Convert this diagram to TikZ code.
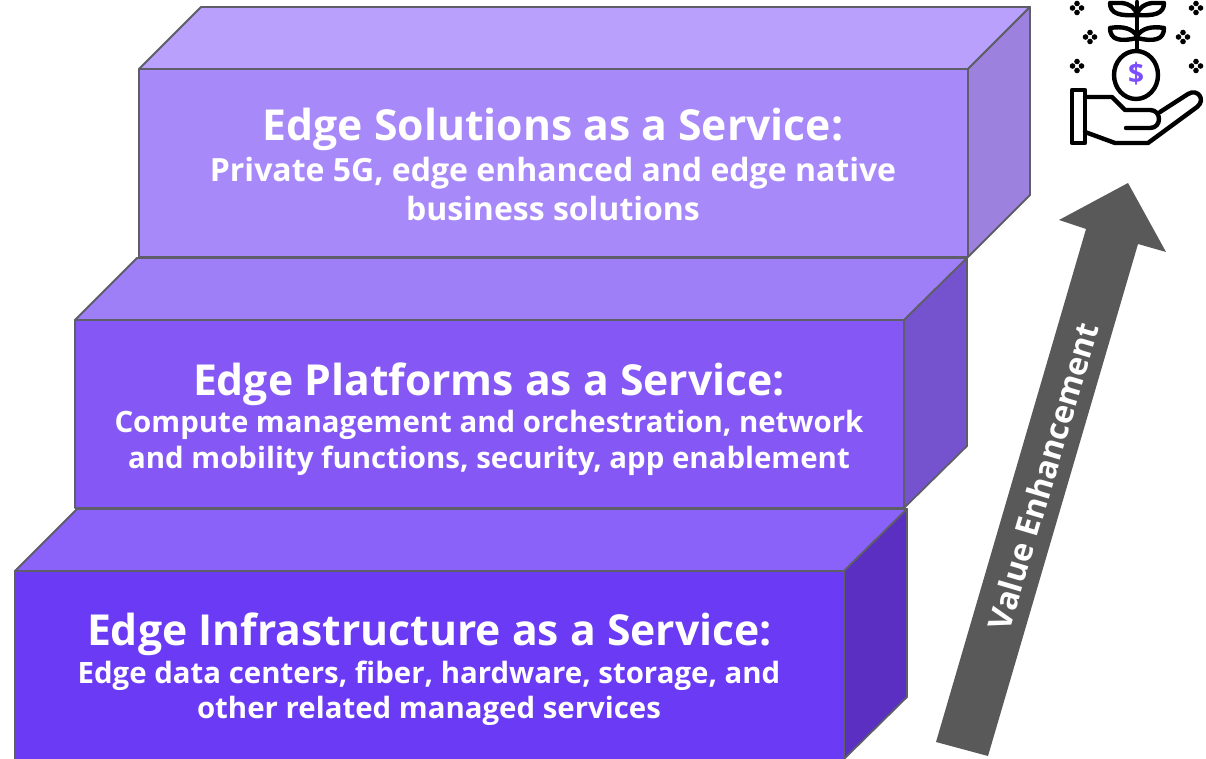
\documentclass[tikz,border=0pt]{standalone}
\usepackage{fontspec}
\setmainfont{Open Sans}[BoldFont={* Bold}]
\definecolor{edgeline}{HTML}{5E5E68}
\definecolor{arrowgrey}{HTML}{595959}
\definecolor{dollar}{HTML}{7C4DFF}
\definecolor{topA}{HTML}{B8A0FC}
\definecolor{topB}{HTML}{9C82DE}
\definecolor{topC}{HTML}{A889F9}
\definecolor{midA}{HTML}{9E7FF8}
\definecolor{midB}{HTML}{7552CE}
\definecolor{midC}{HTML}{8558F5}
\definecolor{botA}{HTML}{8A62FA}
\definecolor{botB}{HTML}{5A2FC2}
\definecolor{botC}{HTML}{6A3AF5}
\tikzset{
  face/.style={draw=edgeline,line width=1.8pt,line join=round},
  titletext/.style={anchor=base,text=white,font=\bfseries\fontsize{42.7}{48}\selectfont,inner sep=0pt},
  subtext/.style={anchor=base,text=white,font=\bfseries\fontsize{29.4}{34}\selectfont,inner sep=0pt},
  subtextbig/.style={subtext,font=\bfseries\fontsize{32}{36}\selectfont},
  ico/.style={draw=black,line width=4.4pt,line join=round,line cap=round,fill=none},
  sparkle/.pic={\foreach \a in {0,90,180,270}{\fill[black,rotate=\a] (4.5,0) circle (2.8);}}
}
\begin{document}
\begin{tikzpicture}[x=1pt,y=-1pt]
\useasboundingbox (0,0) rectangle (1206,759);
% top block
\path[face,fill=topA] (139,69)--(201,7)--(1030,7)--(968,69)--cycle;
\path[face,fill=topB] (968,69)--(1030,7)--(1030,195)--(968,257)--cycle;
\path[face,fill=topC] (139,69) rectangle (968,257);
% middle block
\path[face,fill=midA] (75,320)--(137,258)--(967,258)--(904,320)--cycle;
\path[face,fill=midB] (904,320)--(967,258)--(967,446)--(904,508)--cycle;
\path[face,fill=midC] (75,320) rectangle (904,508);
% bottom block
\path[face,fill=botA] (15,571)--(77,509)--(907,509)--(844,571)--cycle;
\path[face,fill=botB] (844,571)--(907,509)--(907,697)--(844,759)--cycle;
\path[face,fill=botC] (15,571) rectangle (844,762);
% texts
\node[titletext] (t1) at (553,141) {Edge Solutions as a Service:};
\node[subtextbig] (s1a) at (553,182) {Private 5G, edge enhanced and edge native};
\node[subtextbig] (s1b) at (553,220.5) {business solutions};
\node[titletext] (t2) at (489,395) {Edge Platforms as a Service:};
\node[subtext] (s2a) at (489,432) {Compute management and orchestration, network};
\node[subtext] (s2b) at (489,468) {and mobility functions, security, app enablement};
\node[titletext] (t3) at (429.5,645) {Edge Infrastructure as a Service:};
\node[subtext] (s3a) at (429,683.5) {Edge data centers, fiber, hardware, storage, and};
\node[subtext] (s3b) at (429,718.5) {other related managed services};
% arrow
\fill[arrowgrey] (936,742)--(1086,229)--(1059,220)--(1128,183)--(1166,252)--(1138,244)--(988,756)--cycle;
\node[rotate=73.5,text=white,font=\bfseries\fontsize{32}{36}\selectfont,inner sep=0pt] (val) at (1043,476) {Value Enhancement};
% icon
\foreach \p in {(1077,8),(1090,37),(1077,66),(1196,8),(1183,37),(1196,66)}{\pic at \p {sparkle};}
\draw[ico] (1137,2)--(1137,50);
\draw[ico] (1137,15) .. controls (1120,16) and (1110,14) .. (1110,3) -- (1122,3) .. controls (1130,4) and (1135,8) .. (1137,14);
\draw[ico] (1137,15) .. controls (1154,16) and (1164,14) .. (1164,3) -- (1152,3) .. controls (1144,4) and (1139,8) .. (1137,14);
\draw[ico] (1137,38) .. controls (1120,42) and (1110,40) .. (1110,28) .. controls (1122,26) and (1132,28) .. (1137,36);
\draw[ico] (1137,38) .. controls (1154,42) and (1164,40) .. (1164,28) .. controls (1152,26) and (1142,28) .. (1137,36);
\draw[ico] (1136,75) ellipse [x radius=22,y radius=24];
\node[text=dollar,font=\bfseries\fontsize{28}{30}\selectfont,inner sep=0pt] (dol) at (1136,74) {\$};
\draw[ico] (1072,90) rectangle (1085,143);
\draw[ico] (1085,97)--(1112,97)--(1125,110)--(1150,110) .. controls (1162,110) and (1162,128) .. (1150,128) -- (1126,128);
\draw[ico] (1160,112)--(1188,94) .. controls (1198,88) and (1206,100) .. (1197,107) -- (1148,143) -- (1115,143) -- (1085,132);
\end{tikzpicture}
\end{document}
